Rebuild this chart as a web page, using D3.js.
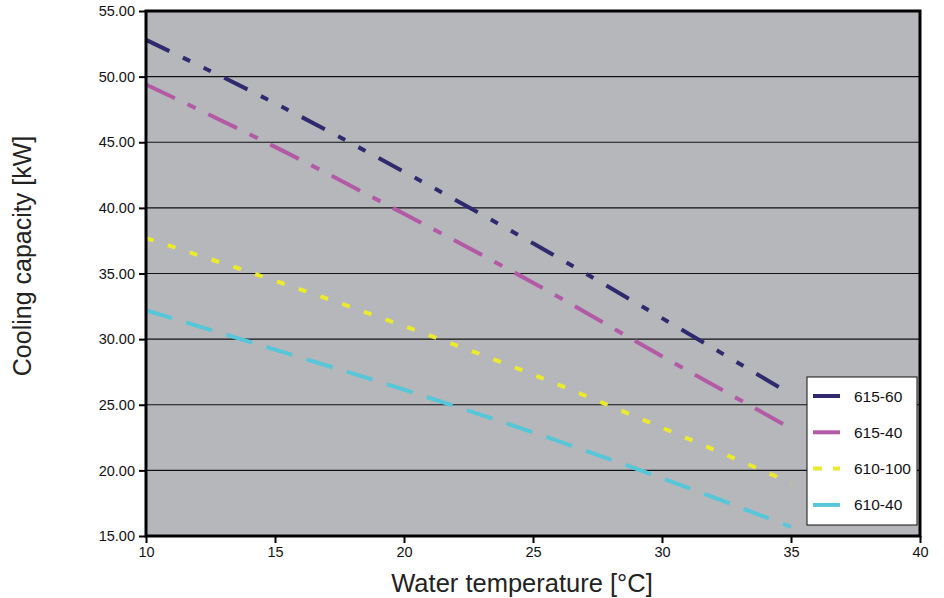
<!DOCTYPE html>
<html>
<head>
<meta charset="utf-8">
<script src="https://cdn.jsdelivr.net/npm/d3@7"></script>
<style>
  html, body { margin: 0; padding: 0; background: #ffffff; }
  svg { display: block; font-family: "Liberation Sans", Arial, sans-serif; }
</style>
</head>
<body>
<svg id="chart" width="944" height="598"></svg>
<script>
// ---- data ----
const temperatures = [10, 15, 20, 25, 30, 35];
const s61560 = [52.8, 47.97, 42.75, 37.3, 31.6, 25.8];
const s61540 = [49.4, 44.65, 39.55, 34.3, 28.7, 23.2];
const s610100 = [37.7, 34.45, 31.0, 27.3, 23.25, 19.05];
const s61040 = [32.2, 29.2, 26.15, 22.9, 19.4, 15.7];
const seriesNames = ["615-60", "615-40", "610-100", "610-40"];
const xTicks = [10, 15, 20, 25, 30, 35, 40];
const yTicks = [15, 20, 25, 30, 35, 40, 45, 50, 55];

// ---- styles ----
const seriesStyle = {
  "615-60": { color: "#2f2a6e", dash: "26,15,8,15,8,15", width: 4 },
  "615-40": { color: "#b35aa6", dash: "32,14,9,14", width: 4 },
  "610-100": { color: "#ecea2c", dash: "8,15", width: 4 },
  "610-40": { color: "#56c6d8", dash: "27,15", width: 4 }
};
const seriesValues = [s61560, s61540, s610100, s61040];

const svg = d3.select("#chart");
const margin = { left: 146, top: 11, right: 24, bottom: 62 };
const W = 944, H = 598;
const x = d3.scaleLinear().domain([10, 40]).range([margin.left, W - margin.right]);
const y = d3.scaleLinear().domain([15, 55]).range([H - margin.bottom, margin.top]);

// plot background
svg.append("rect")
  .attr("x", x(10)).attr("y", y(55))
  .attr("width", x(40) - x(10)).attr("height", y(15) - y(55))
  .attr("fill", "#b6b7bb");

// gridlines
svg.append("g").selectAll("line").data(yTicks.slice(1, -1)).join("line")
  .attr("x1", x(10)).attr("x2", x(40))
  .attr("y1", d => y(d)).attr("y2", d => y(d))
  .attr("stroke", "#111").attr("stroke-width", 1.2);

// series lines
const lineGen = d3.line()
  .x(d => x(d[0])).y(d => y(d[1]))
  .curve(d3.curveMonotoneX);

const gLines = svg.append("g");
seriesNames.forEach((name, i) => {
  const pts = temperatures.map((t, j) => [t, seriesValues[i][j]]);
  const st = seriesStyle[name];
  gLines.append("path")
    .attr("d", lineGen(pts))
    .attr("fill", "none")
    .attr("stroke", st.color)
    .attr("stroke-width", st.width)
    .attr("stroke-dasharray", st.dash);
});

// frame
svg.append("rect")
  .attr("x", x(10)).attr("y", y(55))
  .attr("width", x(40) - x(10)).attr("height", y(15) - y(55))
  .attr("fill", "none").attr("stroke", "#000").attr("stroke-width", 3);

// axes
const yAxis = d3.axisLeft(y).tickValues(yTicks).tickFormat(d3.format(".2f")).tickSize(7).tickPadding(4);
const gy = svg.append("g").attr("transform", `translate(${x(10)},0)`).call(yAxis);
gy.select(".domain").remove();
gy.selectAll(".tick line").attr("stroke", "#000").attr("stroke-width", 2);
gy.selectAll(".tick text").attr("font-size", 14.5).attr("fill", "#111")
  .attr("font-family", "'Liberation Sans', Arial, sans-serif");

const xAxis = d3.axisBottom(x).tickValues(xTicks).tickFormat(d3.format("d")).tickSize(7).tickPadding(4);
const gx = svg.append("g").attr("transform", `translate(0,${y(15)})`).call(xAxis);
gx.select(".domain").remove();
gx.selectAll(".tick line").attr("stroke", "#000").attr("stroke-width", 2);
gx.selectAll(".tick text").attr("font-size", 14.5).attr("fill", "#111")
  .attr("font-family", "'Liberation Sans', Arial, sans-serif");

// axis titles
svg.append("text")
  .attr("x", 522).attr("y", 592)
  .attr("text-anchor", "middle")
  .attr("font-size", 25.5).attr("fill", "#222")
  .text("Water temperature [°C]");

svg.append("text")
  .attr("transform", `translate(31,256) rotate(-90)`)
  .attr("text-anchor", "middle")
  .attr("font-size", 25).attr("fill", "#222")
  .text("Cooling capacity [kW]");

// legend
const lg = svg.append("g");
lg.append("rect")
  .attr("x", 807).attr("y", 377).attr("width", 110).attr("height", 148)
  .attr("fill", "#fff").attr("stroke", "#111").attr("stroke-width", 1);
const legendDash = { "615-60": null, "615-40": null, "610-100": "9,11", "610-40": null };
seriesNames.forEach((name, i) => {
  const cy = 396 + i * 36.3;
  const st = seriesStyle[name];
  lg.append("line")
    .attr("x1", 813).attr("x2", 840).attr("y1", cy).attr("y2", cy)
    .attr("stroke", st.color).attr("stroke-width", 4)
    .attr("stroke-dasharray", legendDash[name]);
  lg.append("text")
    .attr("x", 854).attr("y", cy + 5.5)
    .attr("font-size", 15.5).attr("fill", "#111")
    .text(name);
});
</script>
</body>
</html>
